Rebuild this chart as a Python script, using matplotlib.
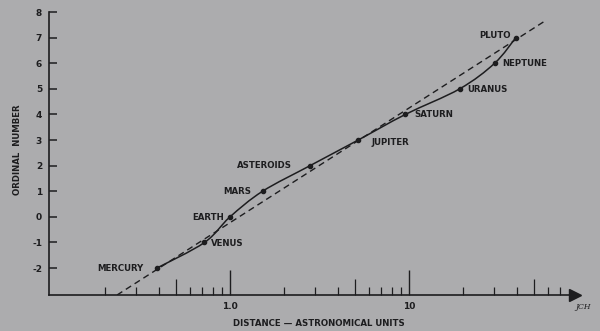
import matplotlib
matplotlib.use("Agg")
import numpy as np
import matplotlib.pyplot as plt
from matplotlib.path import Path
from matplotlib.patches import PathPatch
from matplotlib.ticker import FixedLocator, NullFormatter, FixedFormatter

# Planetary distances (AU) against ordinal number
planets = ["MERCURY", "VENUS", "EARTH", "MARS", "ASTEROIDS",
           "JUPITER", "SATURN", "URANUS", "NEPTUNE", "PLUTO"]
distance_au = [0.39, 0.72, 1.0, 1.52, 2.8, 5.2, 9.54, 19.2, 30.1, 39.5]
ordinal = [-2, -1, 0, 1, 2, 3, 4, 5, 6, 7]

# Straight reference line (log-linear law) endpoints
guide_x = [0.234, 57.5]
guide_y = [-3.05, 7.65]

y_ticks = [-2, -1, 0, 1, 2, 3, 4, 5, 6, 7, 8]
x_major = [1.0, 10.0]
x_major_labels = ["1.0", "10"]
x_minor = [0.2, 0.3, 0.4, 0.5, 0.6, 0.7, 0.8, 0.9,
           2, 3, 4, 5, 6, 7, 8, 9,
           20, 30, 40, 50, 60, 70]
x_half = [0.5, 5, 50]

BG = "#acacae"
INK = "#1d1d1f"

# label placement: (dx px, dy px, ha)
label_place = {
    "MERCURY": (-13, 0, "right"),
    "VENUS": (7, -1, "left"),
    "EARTH": (-6, -1, "right"),
    "MARS": (-11, 0, "right"),
    "ASTEROIDS": (-18, 0, "right"),
    "JUPITER": (13, -2, "left"),
    "SATURN": (9, 0, "left"),
    "URANUS": (8, -1, "left"),
    "NEPTUNE": (8, 0, "left"),
    "PLUTO": (-5, 2, "right"),
}


def smooth_path(xs, ys, tension=0.5):
    """Cubic Bezier path through the points (Catmull-Rom in log-x space)."""
    lx = np.log10(np.asarray(xs, float))
    y = np.asarray(ys, float)
    pts = np.column_stack([lx, y])
    n = len(pts)
    verts = [pts[0]]
    codes = [Path.MOVETO]
    for i in range(n - 1):
        p0 = pts[max(i - 1, 0)]
        p1 = pts[i]
        p2 = pts[i + 1]
        p3 = pts[min(i + 2, n - 1)]
        c1 = p1 + (p2 - p0) * tension / 3.0
        c2 = p2 - (p3 - p1) * tension / 3.0
        verts += [c1, c2, p2]
        codes += [Path.CURVE4] * 3
    verts = np.array(verts)
    verts[:, 0] = 10 ** verts[:, 0]
    return Path(verts, codes)


fig = plt.figure(figsize=(6.0, 3.31), dpi=100, facecolor=BG)
ax = fig.add_axes([49 / 600, 36 / 331, 526 / 600, 283 / 331])
ax.set_facecolor(BG)
ax.set_xscale("log")
ax.set_xlim(0.0975, 84.6)
ax.set_ylim(-3.05, 8.0)

# dashed reference line
ax.plot(guide_x, guide_y, color=INK, lw=1.0, ls=(0, (4.5, 3.0)), zorder=2)
# observed distances, joined by a smooth curve
ax.add_patch(PathPatch(smooth_path(distance_au, ordinal, 0.5), fill=False,
                       edgecolor=INK, lw=1.1, zorder=3))
ax.plot(distance_au, ordinal, ls="none", color=INK, marker="o", ms=3.0,
        zorder=4)

font = dict(family="DejaVu Sans", weight="bold", size=6.2, color=INK)
for name, d, n in zip(planets, distance_au, ordinal):
    dx, dy, ha = label_place[name]
    ax.annotate(name, (d, n), xytext=(dx, dy), textcoords="offset pixels",
                ha=ha, va="center", **font)

for s in ("top", "right"):
    ax.spines[s].set_visible(False)
for s in ("left", "bottom"):
    ax.spines[s].set_linewidth(1.2)
    ax.spines[s].set_color(INK)

ax.set_yticks(y_ticks)
ax.set_yticklabels([str(v) for v in y_ticks])
ax.tick_params(axis="y", direction="in", length=6, width=1.1, color=INK,
               pad=5, labelsize=6.5, labelcolor=INK)
for lab in ax.get_yticklabels():
    lab.set_fontweight("bold")

ax.xaxis.set_major_locator(FixedLocator(x_major))
ax.xaxis.set_major_formatter(FixedFormatter(x_major_labels))
ax.xaxis.set_minor_locator(FixedLocator(x_minor))
ax.xaxis.set_minor_formatter(NullFormatter())
ax.tick_params(axis="x", which="major", direction="in", length=18, width=1.0,
               color=INK, pad=5, labelsize=6.5, labelcolor=INK)
ax.tick_params(axis="x", which="minor", direction="in", length=5.5, width=0.9,
               color=INK)
for lab in ax.get_xticklabels():
    lab.set_fontweight("bold")
fig.canvas.draw()
for loc, tick in zip(x_minor, ax.xaxis.get_minor_ticks()):
    if loc in x_half:
        tick.tick1line.set_markersize(11.5)

# arrowhead on the distance axis
ax.plot([1.0], [0.0], marker=">", ms=8, color=INK, transform=ax.transAxes,
        clip_on=False, zorder=5)

fig.text(319 / 600, 1 - 324 / 331, "DISTANCE \u2014 ASTRONOMICAL UNITS",
         ha="center", va="center", **font)
fig.text(18 / 600, 1 - 150 / 331, "ORDINAL  NUMBER", rotation=90,
         ha="center", va="center", **font)
fig.text(583 / 600, 1 - 307 / 331, "JCH", ha="center", va="center",
         family="DejaVu Serif", style="italic", size=5.5, color=INK)

fig.savefig("out.png", dpi=100, facecolor=BG)
